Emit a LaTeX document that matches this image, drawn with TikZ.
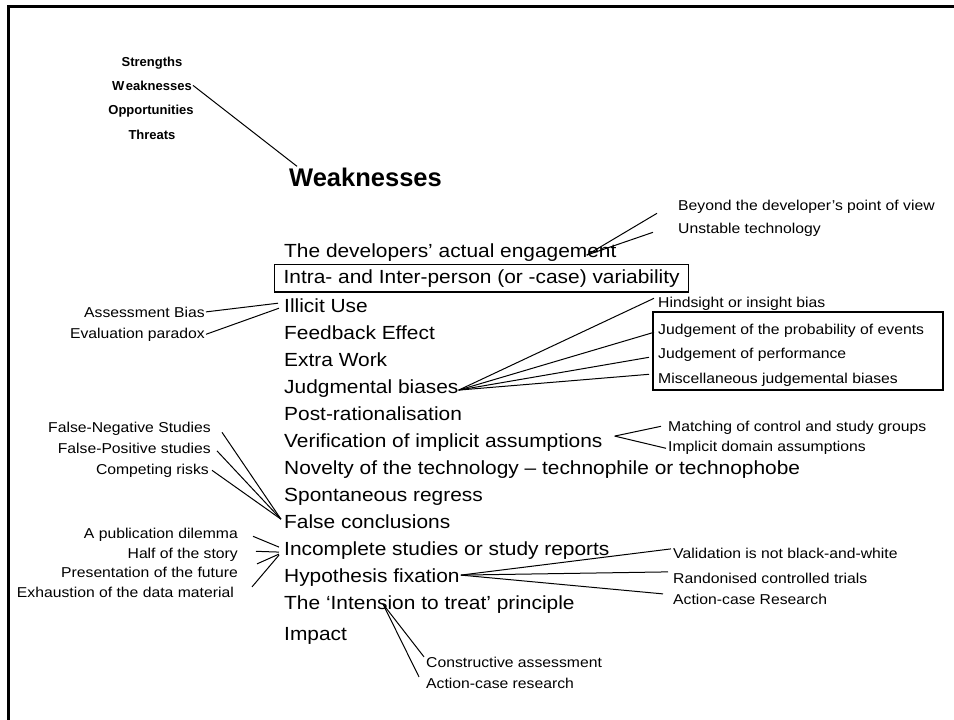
\documentclass[tikz,border=0pt]{standalone}
\usepackage{fontspec}
\setmainfont{Liberation Sans}[FakeStretch=1.1]
\newfontfamily\headfont{Liberation Sans}
\usepackage{tikz}

\begin{document}
\begin{tikzpicture}[x=1pt, y=-1pt]
\tikzstyle{every node} = [inner sep=1pt]
\tikzstyle{item} = [anchor=base west, font=\fontsize{19}{22}\selectfont]
\tikzstyle{noteR} = [anchor=base west, font=\fontsize{14.3}{16}\selectfont]
\tikzstyle{noteL} = [anchor=base east, font=\fontsize{14.3}{16}\selectfont]
\tikzstyle{swot} = [anchor=base, font=\headfont\bfseries\fontsize{13}{15}\selectfont]
\useasboundingbox (0,0) rectangle (954,720);
\draw [line width=3pt] (954,6) -- (8,6) -- (8,720);

\node [swot] (s) at (152,66) {Strengths};
\node [swot] (w) at (152,90) {W\kern1.5pt eaknesses};
\node [swot] (o) at (151,114) {Opportunities};
\node [swot] (t) at (152,139) {Threats};
\node [anchor=base west, font=\headfont\bfseries\fontsize{25.5}{30}\selectfont] (title) at (288,186) {Weaknesses};

\node [item] (eng) at (283,257) {The developers’ actual engagement};
\node [item, draw, line width=1.2pt, inner xsep=9pt, inner ysep=5pt] (intra) at (274,283) {Intra- and Inter-person (or -case) variability};
\node [item] (illicit) at (283,312) {Illicit Use};
\node [item] (feed) at (283,339) {Feedback Effect};
\node [item] (extra) at (283,366) {Extra Work};
\node [item] (judg) at (283,393) {Judgmental biases};
\node [item] (post) at (283,420) {Post-rationalisation};
\node [item] (verif) at (283,447) {Verification of implicit assumptions};
\node [item] (novel) at (283,474) {Novelty of the technology – technophile or technophobe};
\node [item] (spont) at (283,501) {Spontaneous regress};
\node [item] (falsec) at (283,528) {False conclusions};
\node [item] (incomp) at (283,555) {Incomplete studies or study reports};
\node [item] (hypo) at (283,582) {Hypothesis fixation};
\node [item] (inten) at (283,609) {The ‘Intension to treat’ principle};
\node [item] (impact) at (283,640) {Impact};

\node [noteR] (beyond) at (677,210) {Beyond the developer's point of view};
\node [noteR] (unstable) at (677,233) {Unstable technology};
\node [noteR] (hind) at (657,307) {Hindsight or insight bias};
\node [noteR] (prob) at (657,334) {Judgement of the probability of events};
\node [noteR] (perf) at (657,358) {Judgement of performance};
\node [noteR] (misc) at (657,383) {Miscellaneous judgemental biases};
\draw [line width=1.2pt] (653,312) rectangle (943,390);
\node [noteR] (match) at (667,431) {Matching of control and study groups};
\node [noteR] (impl) at (667,451) {Implicit domain assumptions};
\node [noteR] (valid) at (672,558) {Validation is not black-and-white};
\node [noteR] (rand) at (672,583) {Randonised controlled trials};
\node [noteR] (actres) at (672,604) {Action-case Research};
\node [noteR] (constr) at (425,667) {Constructive assessment};
\node [noteR] (actcase) at (425,688) {Action-case research};

\node [noteL] (assess) at (206,317) {Assessment Bias};
\node [noteL] (evalp) at (206,338) {Evaluation paradox};
\node [noteL] (fneg) at (212,432) {False-Negative Studies};
\node [noteL] (fpos) at (212,453) {False-Positive studies};
\node [noteL] (comp) at (210,474) {Competing risks};
\node [noteL] (pub) at (239,538) {A publication dilemma};
\node [noteL] (half) at (239,558) {Half of the story};
\node [noteL] (pres) at (239,577) {Presentation of the future};
\node [noteL] (exh) at (235,597) {Exhaustion of the data material};

\tikzstyle{every path} = [line width=1pt]
\draw [-] (w.east) to ([shift={(9,0)}]title.north west);

\draw [-] ([shift={(-20,7)}]beyond.west) to ([shift={(-31,3)}]eng.east);
\draw [-] ([shift={(-24,3)}]unstable.west) to ([shift={(-31,3)}]eng.east);

\draw [-] ([shift={(-3,-5)}]hind.west) to ([shift={(-1,2)}]judg.east);
\draw [-] ([shift={(-3,2)}]prob.west) to ([shift={(-1,2)}]judg.east);
\draw [-] ([shift={(-8,3)}]perf.west) to ([shift={(-1,2)}]judg.east);
\draw [-] ([shift={(-8,-5)}]misc.west) to ([shift={(-1,2)}]judg.east);

\draw [-] ([shift={(-6,-1)}]match.west) to ([shift={(11,-6)}]verif.east);
\draw [-] ([shift={(-1,1)}]impl.west) to ([shift={(11,-6)}]verif.east);

\draw [-] ([shift={(-1,-4)}]valid.west) to ([shift={(0,-2)}]hypo.east);
\draw [-] ([shift={(-4,-6)}]rand.west) to ([shift={(0,-2)}]hypo.east);
\draw [-] ([shift={(-9,-5)}]actres.west) to ([shift={(0,-2)}]hypo.east);

\draw [-] ([shift={(100,0)}]inten.west) to ([shift={(-1,-5)}]constr.west);
\draw [-] ([shift={(100,0)}]inten.west) to ([shift={(-6,-6)}]actcase.west);

\draw [-] (assess.east) to ([shift={(-5,-2)}]illicit.west);
\draw [-] (evalp.east) to ([shift={(-4,3)}]illicit.west);

\draw [-] ([shift={(10,4)}]fneg.east) to ([shift={(-2,-2)}]falsec.west);
\draw [-] ([shift={(5,3)}]fpos.east) to ([shift={(-2,-2)}]falsec.west);
\draw [-] ([shift={(2,0)}]comp.east) to ([shift={(-2,-2)}]falsec.west);

\draw [-] ([shift={(14,2)}]pub.east) to ([shift={(-4,-3)}]incomp.west);
\draw [-] ([shift={(17,-3)}]half.east) to ([shift={(-4,2)}]incomp.west);
\draw [-] ([shift={(18,-8)}]pres.east) to ([shift={(-4,4)}]incomp.west);
\draw [-] ([shift={(17,-5)}]exh.east) to ([shift={(-4,5)}]incomp.west);
\end{tikzpicture}
\end{document}
